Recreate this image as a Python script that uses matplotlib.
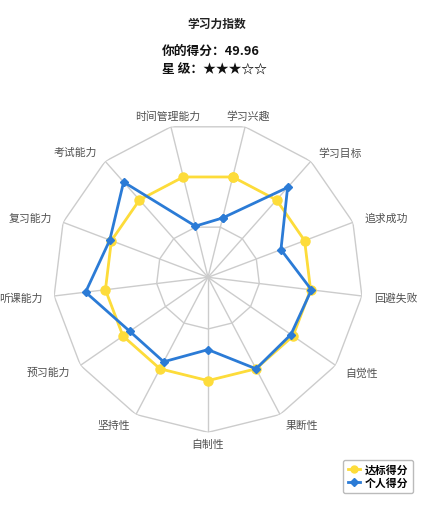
import numpy as np
import matplotlib
matplotlib.use("Agg")
import matplotlib.pyplot as plt
from matplotlib.lines import Line2D

plt.rcParams['font.family'] = ['Noto Sans CJK SC', 'DejaVu Sans']

# data
categories = ['学习兴趣', '学习目标', '追求成功', '回避失败', '自觉性', '果断性', '自制性',
              '坚持性', '预习能力', '听课能力', '复习能力', '考试能力', '时间管理能力']
standard = [60, 60, 60, 60, 60, 60, 60, 60, 60, 60, 60, 60, 60]
personal = [35.5, 69.7, 45.3, 60.5, 58.5, 60, 42, 55.4, 55.2, 71.6, 61, 73.9, 30.6]
max_value = 90
rings = [30, 60, 90]
score = '49.96'
stars = 3

W, H = 421, 506
fig = plt.figure(figsize=(W / 100, H / 100), dpi=100)

cx, cy, R = 208, 278.3, 155
ax = fig.add_axes([(cx - R) / W, (H - cy - R) / H, 2 * R / W, 2 * R / H], projection='polar')
n = len(categories)
offset = np.pi / 2 - np.pi / n
ax.set_theta_offset(offset)
ax.set_theta_direction(-1)
ax.set_ylim(0, max_value)
ax.grid(False)
ax.spines['polar'].set_visible(False)
ax.set_xticks([])
ax.set_yticks([])
ax.patch.set_visible(False)

theta = np.arange(n) * 2 * np.pi / n
theta_c = np.append(theta, theta[0])

# grid polygons and spokes
for r in rings:
    ax.plot(theta_c, [r] * (n + 1), color='#cccccc', lw=1, zorder=1)
for t in theta:
    ax.plot([t, t], [0, max_value], color='#cccccc', lw=1, zorder=1)

std_c = standard + standard[:1]
per_c = personal + personal[:1]
ax.plot(theta_c, std_c, color='#fddc3a', lw=2, marker='o', ms=6.5, zorder=3, clip_on=False)
ax.plot(theta_c, per_c, color='#2b7bd6', lw=2, marker='D', ms=4.5, zorder=4, clip_on=False)

# labels
for t, name in zip(theta, categories):
    ang = offset - t
    c = np.cos(ang)
    if abs(c) < 0.3:
        ha = 'center'
    elif c > 0:
        ha = 'left'
    else:
        ha = 'right'
    ax.text(t, max_value * 167 / 155, name, ha=ha, va='center', fontsize=7.8,
            color='#505050', clip_on=False)

# header
fig.text(217 / W, 1 - 24 / H, '学习力指数', ha='center', va='center', fontsize=8.5,
         fontweight='bold', color='#222222')
fig.text(162 / W, 1 - 51 / H, '你的得分：' + score, ha='left', va='center', fontsize=9.2,
         fontweight='bold', color='#111111')
fig.text(162 / W, 1 - 70 / H, '星 级：' + '★' * stars + '☆' * (5 - stars), ha='left',
         va='center', fontsize=9.2, fontweight='bold', color='#111111')

# legend
handles = [Line2D([], [], color='#fddc3a', lw=2, marker='o', ms=5),
           Line2D([], [], color='#2b7bd6', lw=2, marker='D', ms=3.8)]
leg = fig.legend(handles, ['达标得分', '个人得分'], loc='lower right',
                 bbox_to_anchor=(413 / W, 1 - 494 / H), fontsize=7.8, frameon=True,
                 fancybox=True, edgecolor='#aaaaaa', handlelength=1.1, handletextpad=0.45,
                 labelspacing=0.25, borderpad=0.45, borderaxespad=0)
for txt in leg.get_texts():
    txt.set_fontweight('bold')
leg.get_frame().set_linewidth(1)

fig.savefig('out.png', dpi=100)
